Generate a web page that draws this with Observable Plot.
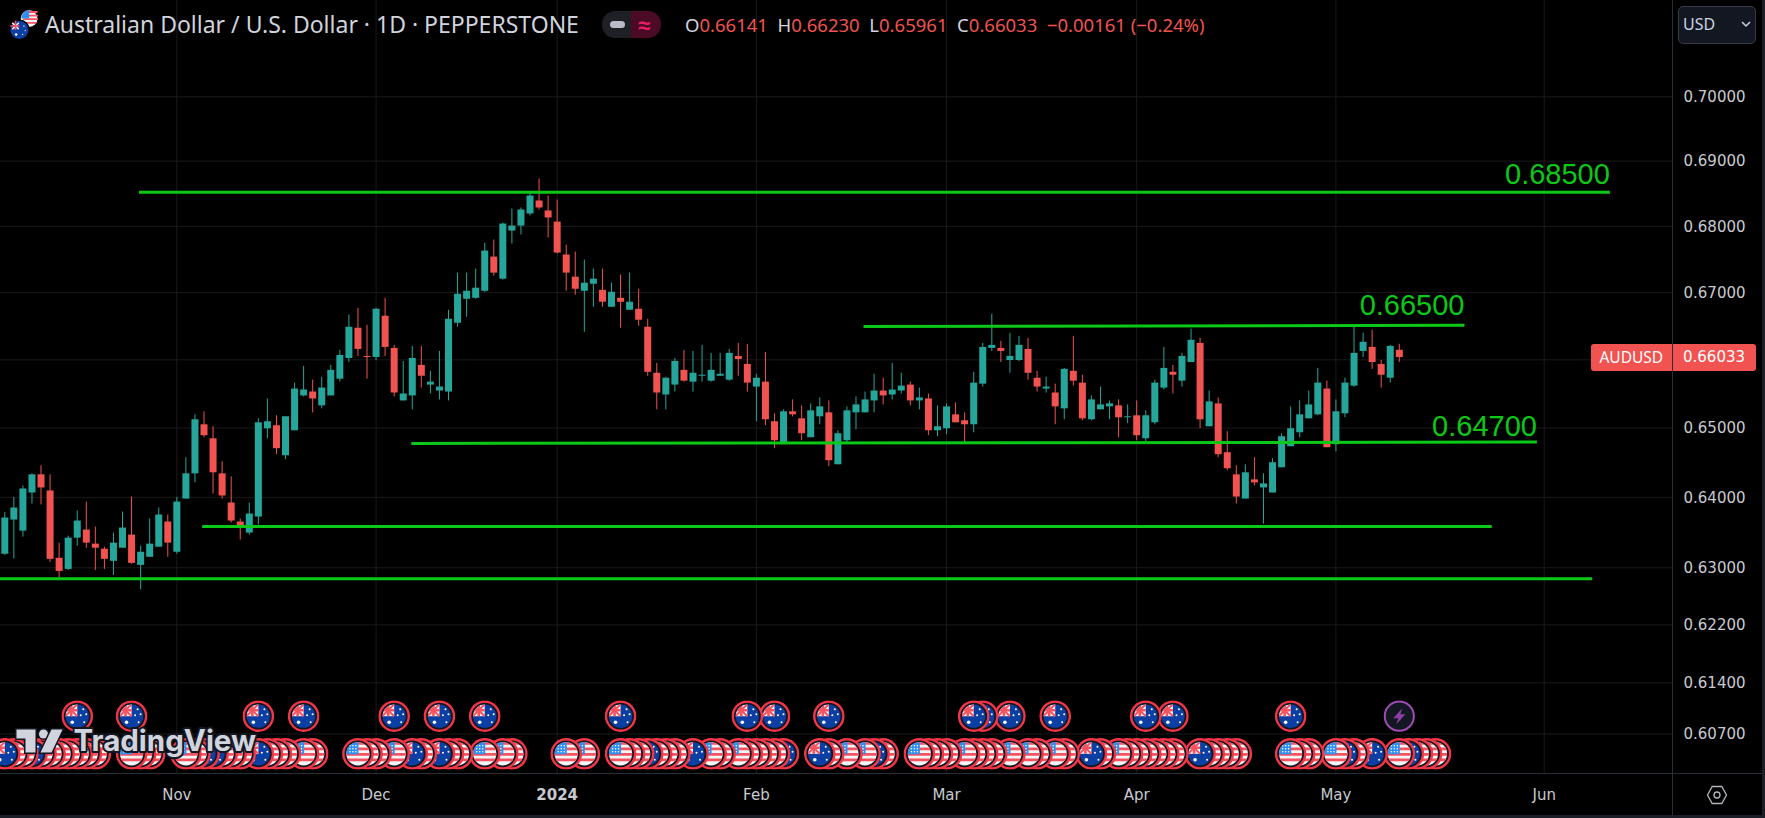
<!DOCTYPE html>
<html><head><meta charset="utf-8">
<script src="https://cdn.jsdelivr.net/npm/d3@7"></script>
<script src="https://cdn.jsdelivr.net/npm/@observablehq/plot@0.6"></script>
<style>
html,body{margin:0;padding:0;background:#1b1e27;width:1765px;height:818px;overflow:hidden}
#wrap{position:relative;width:1762px;height:815px;background:#000;font-family:"Noto Sans",sans-serif}
#wrap svg{display:block}
.abs{position:absolute;white-space:nowrap}
</style></head><body>
<div id="wrap"></div>
<script>
// ---- candle data (price, one entry per daily bar) ----
const open = [.63191,.63676,.63519,.64063,.64324,.64092,.63134,.62977,.63419,.63534,
.63334,.63262,.63091,.63276,.63462,.63034,.63148,.63291,.63648,.63219,
.63976,.64338,.65048,.64845,.64338,.63919,.63648,.63491,.63719,.64990,
.65034,.64599,.64961,.65469,.65527,.65324,.65469,.65715,.66020,.66468,
.66050,.66035,.66647,.66169,.65396,.65469,.65918,.65628,.65541,.65526,
.66542,.66900,.66915,.67020,.67535,.67202,.67929,.68005,.68189,.68388,
.68235,.68066,.67566,.67232,.67020,.67126,.67035,.66781,.66915,.66736,
.66751,.66483,.65802,.65483,.65628,.65845,.65671,.65758,.65686,.65758,
.65700,.66050,.65932,.65599,.65671,.65092,.64787,.65237,.65135,.64860,
.65164,.65222,.64469,.64816,.65222,.65222,.65396,.65541,.65483,.65541,
.65628,.65396,.65425,.64961,.64990,.65193,.65106,.65048,.65642,.66169,
.66169,.65990,.65990,.66154,.65729,.65570,.65512,.65280,.65831,.65657,
.65121,.65266,.65309,.65324,.65150,.65179,.64845,.65077,.65584,.65816,
.65686,.65961,.66244,.65019,.65353,.64643,.64324,.63976,.64251,.64135,
.64063,.64425,.64730,.64932,.65135,.65193,.65570,.64759,.65208,.65613,
.66124,.66184,.65932,.65729,.66141];
const high = [.63786,.64000,.64164,.64338,.64454,.64324,.63348,.63448,.63805,.63933,
.63576,.63291,.63491,.63791,.64005,.63305,.63691,.63848,.63748,.64000,
.64570,.65193,.65237,.65019,.64512,.64295,.63691,.63919,.65135,.65425,
.65179,.65164,.65657,.65903,.65701,.65744,.65918,.66139,.66662,.66766,
.66512,.66766,.66915,.66214,.65976,.66199,.66199,.65831,.66124,.66736,
.67293,.67293,.67354,.67747,.67793,.68051,.68265,.68281,.68525,.68724,
.68464,.68403,.67717,.67611,.67490,.67354,.67354,.67141,.67263,.67293,
.67050,.66602,.65946,.65744,.66020,.66139,.66124,.66214,.66095,.66095,
.66154,.66244,.66229,.65787,.66109,.65208,.65266,.65411,.65324,.65353,
.65440,.65396,.64961,.65309,.65454,.65526,.65787,.65729,.65947,.65802,
.65671,.65584,.65497,.65324,.65353,.65367,.65222,.65816,.66244,.66677,
.66274,.66393,.66348,.66318,.65831,.65744,.65642,.65874,.66348,.65773,
.65469,.65599,.65396,.65411,.65338,.65396,.65251,.65700,.66184,.65918,
.66095,.66453,.66318,.65541,.65440,.64947,.64454,.64469,.64570,.64338,
.64556,.64918,.65309,.65396,.65541,.65874,.65686,.65411,.65729,.66483,
.66393,.66438,.65990,.66214,.66230];
const low = [.63177,.63124,.63434,.63905,.63891,.63076,.62858,.62962,.63305,.63276,
.62962,.62977,.62891,.63276,.63048,.62691,.63148,.63291,.63148,.63191,
.63976,.64208,.64860,.64049,.63976,.63634,.63391,.63462,.63605,.64845,
.64614,.64541,.64961,.65454,.65222,.65280,.65469,.65672,.65961,.66050,
.65715,.65990,.66050,.65454,.65396,.65266,.65584,.65497,.65411,.65396,
.66483,.66632,.66900,.67005,.67247,.67187,.67732,.67869,.68158,.68250,
.67823,.67581,.67020,.66960,.66408,.66781,.66781,.66781,.66468,.66736,
.66498,.65758,.65266,.65266,.65526,.65671,.65526,.65671,.65671,.65758,
.65686,.65758,.65526,.65092,.65034,.64701,.64773,.65164,.64816,.64860,
.65048,.64440,.64469,.64787,.64976,.65222,.65222,.65338,.65411,.65497,
.65324,.65266,.64889,.64874,.64903,.65077,.64787,.64932,.65599,.66124,
.65961,.65802,.65976,.65700,.65526,.65512,.65048,.65121,.65613,.65106,
.65106,.65266,.65121,.64860,.65063,.64816,.64802,.65048,.65555,.65497,
.65599,.65961,.64990,.65019,.64570,.64382,.63905,.63976,.64164,.63619,
.64063,.64425,.64730,.64860,.65135,.65179,.64715,.64657,.65150,.65599,
.66035,.65860,.65584,.65657,.65961];
const close = [.63705,.63848,.64121,.64324,.64135,.63119,.62948,.63419,.63662,.63348,
.63276,.63119,.63348,.63562,.63062,.63219,.63334,.63748,.63348,.63933,
.64338,.65121,.64889,.64353,.64020,.63662,.63591,.63762,.65077,.65092,
.64701,.65164,.65570,.65556,.65425,.65585,.65845,.66065,.66483,.66154,
.66035,.66751,.66184,.65512,.65498,.66020,.65758,.65671,.65599,.66602,
.66975,.67020,.67066,.67626,.67293,.68036,.68005,.68250,.68464,.68281,
.68128,.67596,.67293,.67050,.67141,.67202,.66856,.67005,.66856,.66856,
.66587,.65816,.65512,.65729,.65976,.65686,.65802,.65773,.65845,.65787,
.66095,.66005,.65657,.65729,.65121,.64816,.65237,.65193,.64918,.65251,
.65309,.64527,.64918,.65251,.65338,.65411,.65541,.65469,.65555,.65613,
.65396,.65440,.64961,.65019,.65309,.65077,.65048,.65657,.66184,.66214,
.66124,.66050,.66214,.65802,.65599,.65599,.65309,.65860,.65686,.65135,
.65411,.65338,.65353,.65150,.65164,.64889,.65179,.65657,.65874,.65773,
.66050,.66289,.65121,.65382,.64614,.64411,.64005,.64353,.64208,.64193,
.64498,.64874,.64990,.65193,.65338,.65657,.64715,.65237,.65657,.66095,
.66259,.65961,.65773,.66199,.66033];

// ---- axes ----
const priceTicks = [.70,.69,.68,.67,.66,.65,.64,.63,.622,.614,.607];
const monthBars = [19,41,83,104,125,147,170];
const monthNames = ["Nov","Dec","Feb","Mar","Apr","May","Jun"];
const yearBars = [61];
const yearNames = ["2024"];

// ---- hand-drawn levels (bar index, price) ----
const levelStartBar = [14.82,94.83,44.9,21.8,-1];
const levelEndBar   = [177.25,161.2,169.2,164.2,175.3];
const levelStartPrice = [.68523,.66493,.64777,.63586,.62845];
const levelEndPrice   = [.68523,.66512,.64797,.63586,.62845];
const levelNames = ["0.68500","0.66500","0.64700"];
const levelNamePrice = [.68651,.66661,.64888];

// ---- calendar events (bar index) ----
const auTop = [8,14,28,33,43,48,53,68,82,85,91,107,108,111,116,126,129,142];
const boltTop = [154];
const usBottom = [1,2,4,5,6,7,8,9,10,14,15,16,20,21,24,25,26,29,30,31,33,34,39,40,41,43,46,49,50,53,55,56,62,64,68,69,70,72,73,74,78,79,81,82,83,84,85,91,93,95,97,101,102,103,104,106,107,108,109,111,113,114,116,117,121,123,124,125,126,127,128,129,133,134,135,136,142,143,144,147,149,154,156,157,158];
const auBottom = [0,3,22,23,28,45,48,71,76,86,90,96,120,132,148,151,155];

// ---- icon art ----
const ring = '<circle cx="16" cy="16" r="14.6" fill="#131722" stroke="#f23645" stroke-width="2.4"/>';
const auArt = ring+'<clipPath id="c"><circle cx="16" cy="16" r="11.6"/></clipPath><g clip-path="url(#c)"><rect width="32" height="32" fill="#0c3fa3"/><rect x="4" y="4" width="12" height="12" fill="#f5f5f7"/><path d="M4 4L16 16M16 4L4 16" stroke="#f7525f" stroke-width="2"/><path d="M10 4V16M4 10H16" stroke="#f7525f" stroke-width="2.6"/><circle cx="11" cy="22" r="1.8" fill="#fff"/><circle cx="22" cy="9" r="1" fill="#fff"/><circle cx="25" cy="14" r="1" fill="#fff"/><circle cx="19.500" cy="15" r="1" fill="#fff"/><circle cx="23" cy="22" r="1" fill="#fff"/></g>';
const usArt = ring+'<clipPath id="c"><circle cx="16" cy="16" r="11.6"/></clipPath><g clip-path="url(#c)"><rect width="32" height="32" fill="#f5f5f7"/><path d="M4 5.500H28M4 11H28M4 16.500H28M4 22H28" stroke="#f7525f" stroke-width="2.8"/><rect x="4" y="4" width="12.500" height="12.500" fill="#2f8ff0"/><g fill="#fff"><circle cx="8" cy="8" r=".8"/><circle cx="11" cy="8" r=".8"/><circle cx="14" cy="8" r=".8"/><circle cx="8" cy="11" r=".8"/><circle cx="11" cy="11" r=".8"/><circle cx="14" cy="11" r=".8"/><circle cx="8" cy="14" r=".8"/><circle cx="11" cy="14" r=".8"/><circle cx="14" cy="14" r=".8"/></g></g>';
const boltArt = '<circle cx="16" cy="16" r="14.6" fill="#131722" stroke="#a34bb8" stroke-width="2"/><path d="M19 8L10 18H15L13 24L22 14H17Z" fill="#8e3fa6"/>';
const logoArt = '<g transform="translate(3,3)" fill="#d1d4dc" stroke="#131722" stroke-width="3" paint-order="stroke"><path d="M0 0H19V23H9V9H0Z"/><circle cx="27" cy="4.500" r="4.500"/><path d="M35 0H46L35 23H24Z"/></g>';
const uri = (art, w=32, h=32) => "data:image/svg+xml;charset=utf-8," + encodeURIComponent(`<svg xmlns="http://www.w3.org/2000/svg" viewBox="0 0 ${w} ${h}" width="${w}" height="${h}">${art}</svg>`);
const auSrc = uri(auArt), usSrc = uri(usArt), boltSrc = uri(boltArt), logoSrc = uri(logoArt,52,29);

// ---- tables ----
const up = "#26a69a", down = "#f05350", green = "#0bc916", grid = "#1a1a1a", axisText = "#c8cad0";
const candles = open.map((o,i)=>({i,open:o,high:high[i],low:low[i],close:close[i]}));
const candleColor = d => d.close >= d.open ? up : down;
const levels = levelStartBar.map((x1,k)=>({x1,x2:levelEndBar[k],y1:levelStartPrice[k],y2:levelEndPrice[k]}));
const levelLabels = levelNames.map((name,k)=>({name,x:levelEndBar[k],y:levelNamePrice[k]}));
const bottomEvents = [...usBottom.map(i=>({i,src:usSrc})),...auBottom.map(i=>({i,src:auSrc}))].sort((a,b)=>b.i-a.i);
const topEvents = [...auTop.map(i=>({i,src:auSrc})),...boltTop.map(i=>({i,src:boltSrc}))].sort((a,b)=>b.i-a.i);
const F = '"DejaVu Sans",sans-serif';

const chart = Plot.plot({
  width:1762, height:815, marginTop:0, marginBottom:42, marginLeft:0, marginRight:90,
  style:{background:"#000",fontFamily:F},
  x:{type:"linear",domain:[-0.475,184.17]},
  y:{type:"log",domain:[.60166,.71525]},
  marks:[
    Plot.gridX(monthBars.concat(yearBars),{stroke:grid,strokeOpacity:1}),
    Plot.gridY(priceTicks,{stroke:grid,strokeOpacity:1}),
    Plot.ruleX(candles,{x:"i",y1:"low",y2:"high",stroke:candleColor,strokeWidth:1}),
    Plot.ruleX(candles,{x:"i",y1:"open",y2:"close",stroke:candleColor,strokeWidth:7}),
    Plot.link(levels,{x1:"x1",x2:"x2",y1:"y1",y2:"y2",stroke:green,strokeWidth:3,clip:true}),
    Plot.text(levelLabels,{x:"x",y:"y",text:"name",textAnchor:"end",lineAnchor:"bottom",fill:green,fontSize:29,fontFamily:'"Liberation Sans",sans-serif'}),
    Plot.image(bottomEvents,{x:"i",src:"src",width:32,height:32,frameAnchor:"bottom",dy:-19.700}),
    Plot.image(topEvents,{x:"i",src:"src",width:32,height:32,frameAnchor:"bottom",dy:-57.300}),
    Plot.image([logoSrc],{src:d=>d,width:52,height:29,frameAnchor:"bottom-left",dx:39,dy:-32.500}),
    Plot.text(["TradingView"],{frameAnchor:"bottom-left",dx:73,dy:-32,textAnchor:"start",lineAnchor:"middle",fontSize:29.500,fontWeight:700,fontFamily:'Inter,sans-serif',fill:"#d1d4dc",stroke:"#131722",strokeWidth:4,paintOrder:"stroke"}),
    Plot.axisX(monthBars,{anchor:"bottom",label:null,tickSize:0,tickPadding:16,fontSize:15,fill:axisText,tickFormat:d=>monthNames[monthBars.indexOf(d)]}),
    Plot.axisX(yearBars,{anchor:"bottom",label:null,tickSize:0,tickPadding:16,fontSize:15,fontWeight:"bold",fill:axisText,tickFormat:d=>yearNames[yearBars.indexOf(d)]}),
    Plot.axisY(priceTicks,{anchor:"right",label:null,tickSize:0,tickPadding:11,fontSize:15,dy:0.500,fill:axisText,tickFormat:d3.format(".5f")})
  ]
});
const wrap = document.getElementById("wrap");
wrap.appendChild(chart);
const html = `
<div class="abs" style="left:1672px;top:0;width:1px;height:815px;background:#2a2e39"></div>
<div class="abs" style="left:0;top:773px;width:1762px;height:1px;background:#2a2e39"></div>
<svg class="abs" style="left:9px;top:9px" width="32" height="32" viewBox="0 0 32 32">
 <g transform="translate(10.500,0) scale(.6)"><circle cx="16" cy="16" r="14" fill="#f5f5f7"/><path d="M10 5H30M6 11H31M6 17H31M6 23H28" stroke="#f7525f" stroke-width="3"/><path d="M16 2A14 14 0 0 0 3 16H16Z" fill="#2f8ff0"/></g>
 <g transform="translate(0,10.500) scale(.65)"><circle cx="16" cy="16" r="15" fill="#0c3fa3" stroke="#000" stroke-width="2"/><path d="M5 5L15 15M15 5L5 15" stroke="#f5f5f7" stroke-width="2.500"/><path d="M10 2V16M2 10H16" stroke="#f7525f" stroke-width="2.400"/><circle cx="11" cy="23" r="2" fill="#fff"/><circle cx="23" cy="10" r="1" fill="#fff"/><circle cx="25" cy="17" r="1" fill="#fff"/><circle cx="21" cy="23" r="1" fill="#fff"/></g>
</svg>
<div class="abs" id="title" style="left:45px;top:8px;font:23px/32px 'Noto Sans',sans-serif;color:#d1d4dc">Australian Dollar / U.S. Dollar · 1D · PEPPERSTONE</div>
<div class="abs" style="left:601.500px;top:11px;width:29.500px;height:26.500px;background:#1e2026;border-radius:13px 0 0 13px"></div>
<div class="abs" style="left:631px;top:11px;width:30px;height:26.500px;background:#4b0a25;border-radius:0 13px 13px 0"></div>
<div class="abs" style="left:610px;top:21px;width:15px;height:7px;background:#b9bcc4;border-radius:3.500px"></div>
<div class="abs" style="left:633px;top:9px;width:22px;text-align:center;font:bold 22px/30px 'Noto Sans',sans-serif;color:#e91e63">≈</div>
<div class="abs" id="ohlc" style="left:685px;top:10px;font:18.500px/30px 'Noto Sans',sans-serif;color:#f05350"><span style="color:#d1d4dc">O</span>0.66141 &nbsp;<span style="color:#d1d4dc">H</span>0.66230 &nbsp;<span style="color:#d1d4dc">L</span>0.65961 &nbsp;<span style="color:#d1d4dc">C</span>0.66033 &nbsp;−0.00161 (−0.24%)</div>
<div class="abs" style="left:1678px;top:6px;width:76px;height:36px;background:#131722;border:1px solid #363a45;border-radius:5px"></div>
<div class="abs" style="left:1683px;top:9px;font:16px/30px 'Noto Sans',sans-serif;color:#c9d4e4">USD</div>
<svg class="abs" style="left:1740px;top:20px" width="12" height="8"><path d="M2 2L6 6L10 2" fill="none" stroke="#c9d4e4" stroke-width="1.500"/></svg>
<div class="abs" style="left:1591px;top:344px;width:80.500px;height:26.500px;background:#f05350;border-radius:3px 0 0 3px;color:#fff;text-align:center;font:15.500px/26.500px 'Noto Sans',sans-serif">AUDUSD</div>
<div class="abs" style="left:1672.500px;top:344px;width:83px;height:26.500px;background:#f05350;border-radius:0 3px 3px 0;color:#fff;text-align:center;font:15px/26.500px 'DejaVu Sans',sans-serif">0.66033</div>
<svg class="abs" style="left:1706px;top:784px" width="22" height="22"><path d="M1.500 11L6.200 2.500H15.800L20.500 11L15.800 19.500H6.200Z" fill="none" stroke="#b2b5be" stroke-width="1.300"/><circle cx="11" cy="11" r="3" fill="none" stroke="#b2b5be" stroke-width="1.300"/></svg>`;
wrap.insertAdjacentHTML("beforeend", html);
</script>
</body></html>
